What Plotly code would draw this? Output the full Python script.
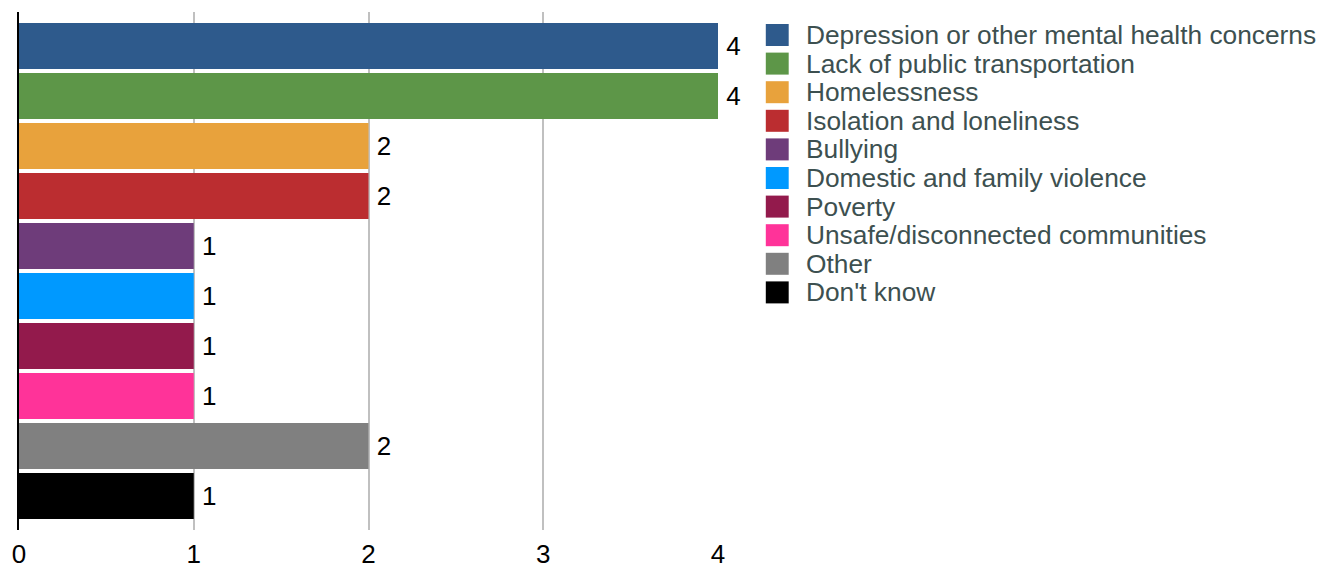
import plotly.graph_objects as go

# data
categories = ["Depression or other mental health concerns", "Lack of public transportation",
              "Homelessness", "Isolation and loneliness", "Bullying",
              "Domestic and family violence", "Poverty", "Unsafe/disconnected communities",
              "Other", "Don't know"]
counts = [4, 4, 2, 2, 1, 1, 1, 1, 2, 1]
colors = ["#2e5a8c", "#5d9648", "#e8a23c", "#bb2d30", "#6e3c7a",
          "#0099ff", "#931a4c", "#ff3399", "#808080", "#000000"]

fig = go.Figure()
for cat, n, c in zip(categories, counts, colors):
    fig.add_trace(go.Bar(y=[cat], x=[n], name=cat, orientation="h",
                         marker=dict(color=c, line=dict(width=0)),
                         text=[n], texttemplate="\u2009%{x}", textposition="outside",
                         textfont=dict(size=26, color="black"),
                         cliponaxis=False, showlegend=False))

# legend drawn by hand so the rows sit as tight as the original
plot_top, plot_bot, plot_left, plot_w = 12, 530, 16, 702
for i, (cat, c) in enumerate(zip(categories, colors)):
    cy = 35 + 28.6 * i
    y0 = (plot_bot - (cy + 11)) / (plot_bot - plot_top)
    y1 = (plot_bot - (cy - 11)) / (plot_bot - plot_top)
    fig.add_shape(type="rect", xref="paper", yref="paper",
                  x0=(766 - plot_left) / plot_w, x1=(789 - plot_left) / plot_w,
                  y0=y0, y1=y1, fillcolor=c, line=dict(width=0))
    fig.add_annotation(xref="paper", yref="paper",
                       x=(804 - plot_left) / plot_w, y=(y0 + y1) / 2,
                       xanchor="left", yanchor="middle", showarrow=False,
                       text=cat, font=dict(size=26.3, color="#3d5050"))

fig.update_layout(
    width=1339, height=567,
    margin=dict(l=8, r=629, t=4, b=45),
    plot_bgcolor="white", paper_bgcolor="white",
    font=dict(family="Liberation Sans, Arial", size=26, color="black"),
    barmode="overlay", bargap=0.08,
    xaxis=dict(range=[0, 4], tickvals=[0, 1, 2, 3, 4], showgrid=True,
               gridcolor="#c0c0c0", gridwidth=2, zeroline=False,
               ticks="", ticklabelstandoff=6),
    yaxis=dict(categoryorder="array", categoryarray=categories,
               autorange=False, range=[9.68, -0.68], showticklabels=False,
               showgrid=False, showline=True, linecolor="black", linewidth=2,
               ticks=""),
)

fig.write_html("out.html")
